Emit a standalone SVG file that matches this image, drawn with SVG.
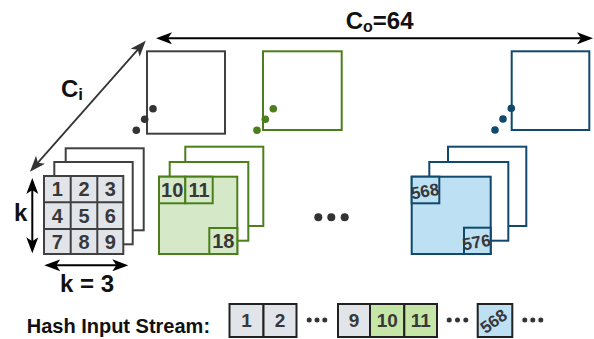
<svg xmlns="http://www.w3.org/2000/svg" width="594" height="339" viewBox="0 0 594 339">
<style>
.lbl{font-family:"Liberation Sans",Arial,sans-serif;font-weight:bold;fill:#111}
.num{font-family:"Liberation Sans",Arial,sans-serif;font-weight:bold;font-size:20px;fill:#383838;text-anchor:middle}
.snum{font-family:"Liberation Sans",Arial,sans-serif;font-weight:bold;font-size:19px;fill:#383838;text-anchor:middle}
.rot{font-family:"Liberation Sans",Arial,sans-serif;font-weight:bold;font-size:17px;fill:#383838;text-anchor:middle}
.g{fill:#fff;stroke:#404040;stroke-width:2}
.gf{fill:#e1e4e9;stroke:#404040;stroke-width:2}
.gr{fill:#fff;stroke:#4b7f1c;stroke-width:2}
.grf{fill:#d5e8c8;stroke:#4b7f1c;stroke-width:2}
.bl{fill:#fff;stroke:#10496d;stroke-width:2}
.blf{fill:#bde0f3;stroke:#10496d;stroke-width:2}
.sg{fill:#e1e4e9;stroke:#222;stroke-width:2}
.sgr{fill:#c6e6a8;stroke:#222;stroke-width:2}
.sbl{fill:#bde0f3;stroke:#222;stroke-width:2}
</style>
<defs>
<marker id="ahk" viewBox="0 0 16 12" refX="12" refY="6" markerWidth="16" markerHeight="12" markerUnits="userSpaceOnUse" orient="auto-start-reverse"><path d="M0,0 L16,6 L0,12 L4,6 z" fill="#000"/></marker>
<marker id="ahg" viewBox="0 0 16 12" refX="12" refY="6" markerWidth="16" markerHeight="12" markerUnits="userSpaceOnUse" orient="auto-start-reverse"><path d="M0,0 L16,6 L0,12 L4,6 z" fill="#333"/></marker>
</defs>

<g id="connectors">
<line x1="160" y1="38.3" x2="589" y2="38.3" stroke="#000" stroke-width="2" marker-start="url(#ahk)" marker-end="url(#ahk)"/>
<line x1="143.1" y1="43.7" x2="32.6" y2="168.7" stroke="#333" stroke-width="1.8" marker-start="url(#ahg)" marker-end="url(#ahg)"/>
<line x1="32.3" y1="182" x2="32.3" y2="249.3" stroke="#000" stroke-width="2" marker-start="url(#ahk)" marker-end="url(#ahk)"/>
<line x1="48.3" y1="265.3" x2="124.3" y2="265.3" stroke="#000" stroke-width="2" marker-start="url(#ahk)" marker-end="url(#ahk)"/>
</g>

<g id="labels">
<text class="lbl" x="345.7" y="29.3" font-size="24">C<tspan font-size="16" dy="2.5">o</tspan><tspan dy="-2.5">=64</tspan></text>
<text class="lbl" x="61" y="97.3" font-size="24">C<tspan font-size="17" dy="3">i</tspan></text>
<text class="lbl" x="14" y="221" font-size="24">k</text>
<text class="lbl" x="60" y="291.7" font-size="24">k = 3</text>
<text class="lbl" x="26.7" y="332.7" font-size="20">Hash Input Stream:</text>
</g>

<g id="filter-gray-top">
<rect class="g" x="147" y="51.3" width="78" height="82.4"/>
<g fill="#333"><circle cx="153" cy="108.7" r="3.8"/><circle cx="144.7" cy="119.3" r="3.8"/><circle cx="136.3" cy="130.3" r="3.8"/></g>
</g>
<g id="filter-green-top">
<rect class="gr" x="263" y="51.3" width="78.7" height="78.7"/>
<g fill="#4b7f1c"><circle cx="273.3" cy="108.7" r="3.8"/><circle cx="265.3" cy="119.3" r="3.8"/><circle cx="257" cy="130.3" r="3.8"/></g>
</g>
<g id="filter-blue-top">
<rect class="bl" x="511.7" y="51.3" width="77.6" height="78.7"/>
<g fill="#10496d"><circle cx="511.3" cy="108.3" r="3.8"/><circle cx="503" cy="119" r="3.8"/><circle cx="495" cy="130" r="3.8"/></g>
</g>

<g id="kernel-gray">
<rect class="g" x="65.7" y="148.3" width="78" height="82"/>
<rect class="g" x="54.3" y="162" width="78.4" height="82.3"/>
<rect class="gf" x="44" y="176" width="79.3" height="78"/>
<g stroke="#404040" stroke-width="2">
<line x1="70.7" y1="176" x2="70.7" y2="254"/><line x1="97.3" y1="176" x2="97.3" y2="254"/>
<line x1="44" y1="202.3" x2="123.3" y2="202.3"/><line x1="44" y1="229" x2="123.3" y2="229"/>
</g>
<text class="num" x="57.3" y="196.2">1</text><text class="num" x="84" y="196.2">2</text><text class="num" x="110.3" y="196.2">3</text>
<text class="num" x="57.3" y="222.7">4</text><text class="num" x="84" y="222.7">5</text><text class="num" x="110.3" y="222.7">6</text>
<text class="num" x="57.3" y="248.5">7</text><text class="num" x="84" y="248.5">8</text><text class="num" x="110.3" y="248.5">9</text>
</g>

<g id="kernel-green">
<rect class="gr" x="185.3" y="146.7" width="78" height="79.3"/>
<rect class="gr" x="169.7" y="162" width="78.6" height="78.7"/>
<rect class="grf" x="159" y="176.7" width="78.3" height="77.3"/>
<rect class="grf" x="159" y="176.7" width="26.3" height="26.6"/>
<rect class="grf" x="185.3" y="176.7" width="27.4" height="26.6"/>
<rect class="grf" x="209.3" y="228" width="28" height="26"/>
<text class="num" x="172.2" y="197.2">10</text>
<text class="num" x="199" y="197.2">11</text>
<text class="num" x="223.3" y="248.2">18</text>
</g>

<g id="ellipsis-mid" fill="#333">
<circle cx="318.3" cy="217.3" r="4"/><circle cx="331.3" cy="217.3" r="4"/><circle cx="344.7" cy="217.3" r="4"/>
</g>

<g id="kernel-blue">
<rect class="bl" x="448" y="146.7" width="78.3" height="79.3"/>
<rect class="bl" x="429.3" y="162" width="79" height="78.7"/>
<rect class="blf" x="411.7" y="176.7" width="79" height="77.3"/>
<rect class="blf" x="411.7" y="176.7" width="27.6" height="26.6"/>
<rect class="blf" x="464" y="227.7" width="26.7" height="26.3"/>
<text class="rot" transform="translate(426,197) rotate(-10)">568</text>
<text class="rot" transform="translate(477.5,248) rotate(-10)">576</text>
</g>

<g id="stream">
<rect class="sg" x="229.5" y="304" width="34" height="33"/>
<rect class="sg" x="263.5" y="304" width="33" height="33"/>
<text class="snum" x="246.5" y="327.3">1</text>
<text class="snum" x="280" y="327.3">2</text>
<g fill="#333"><circle cx="309.2" cy="320" r="2.5"/><circle cx="317" cy="320" r="2.5"/><circle cx="324.8" cy="320" r="2.5"/></g>
<rect class="sg" x="338" y="304" width="32" height="33"/>
<rect class="sgr" x="370" y="304" width="34.3" height="33"/>
<rect class="sgr" x="404.3" y="304" width="32.7" height="33"/>
<text class="snum" x="354" y="327.3">9</text>
<text class="snum" x="387.2" y="327.3">10</text>
<text class="snum" x="420.7" y="327.3">11</text>
<g fill="#333"><circle cx="449.2" cy="320" r="2.5"/><circle cx="457.5" cy="320" r="2.5"/><circle cx="465.8" cy="320" r="2.5"/></g>
<rect class="sbl" x="477.7" y="304" width="34.6" height="33"/>
<text class="rot" transform="translate(497,326) rotate(-35)">568</text>
<g fill="#333"><circle cx="524.8" cy="320" r="2.5"/><circle cx="532.8" cy="320" r="2.5"/><circle cx="540.8" cy="320" r="2.5"/></g>
</g>
</svg>
